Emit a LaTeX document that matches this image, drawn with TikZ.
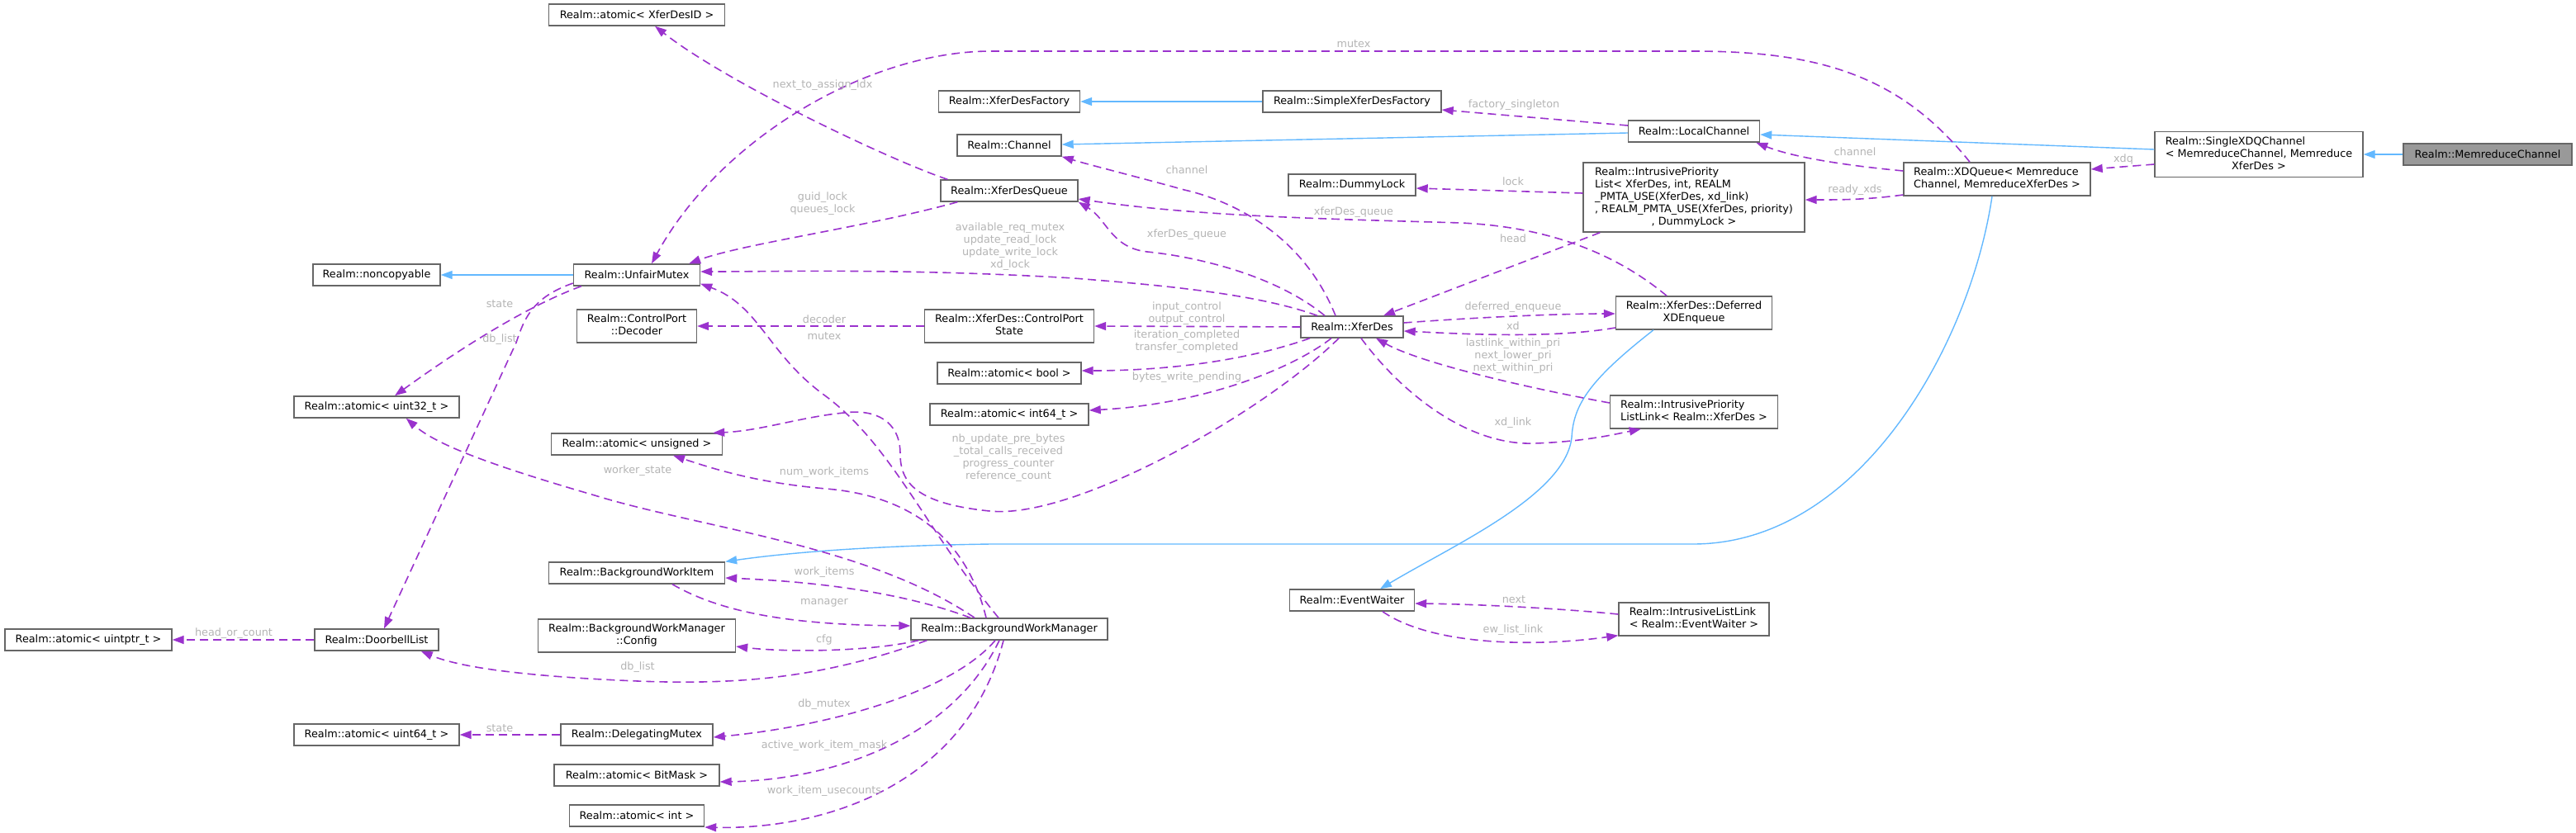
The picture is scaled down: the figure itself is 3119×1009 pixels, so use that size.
\documentclass[tikz,border=0pt]{standalone}
\usepackage{fontspec}
\setmainfont{DejaVu Sans}
\usetikzlibrary{arrows.meta,calc}
\definecolor{cpurple}{HTML}{9A32CD}
\definecolor{cblue}{HTML}{63B8FF}
\definecolor{cbord}{HTML}{666666}
\definecolor{cgray}{HTML}{B4B4B4}
\definecolor{croot}{HTML}{999999}
\newcommand\nf{\fontsize{12.8pt}{15pt}\selectfont}
\newcommand\mlines[1]{\begin{tabular}{@{}l@{}}#1\end{tabular}}
\newcommand\lastc[1]{\multicolumn{1}{@{}c@{}}{#1}}
\tikzset{
  box/.style={draw=cbord, line width=1.4pt, fill=white, inner sep=0pt, font=\nf, text=black},
  lbl/.style={text=cgray, font=\nf, align=center, inner sep=0pt},
  mem/.style={draw=cpurple, dash pattern=on 10pt off 6pt, line width=1.6pt, -{Triangle[length=14pt,width=10pt]}, fill=none},
  inh/.style={draw=cblue, line width=1.4pt, -{Triangle[length=14pt,width=10pt]}},
}
\begin{document}
\begin{tikzpicture}[x=1pt,y=-1pt]
\useasboundingbox (0,0) rectangle (3119,1009);
% nodes
\node[box, fill=croot, minimum width=204, minimum height=26] (mc) at (3012,187) {Realm::MemreduceChannel};
\node[box, minimum width=252, minimum height=55] (sxdq) at (2735,187) {\mlines{Realm::SingleXDQChannel\\< MemreduceChannel, Memreduce\\\lastc{XferDes >}}};
\node[box, minimum width=159, minimum height=26] (lc) at (2051,159) {Realm::LocalChannel};
\node[box, minimum width=226, minimum height=40] (xdq) at (2418,217) {\mlines{Realm::XDQueue< Memreduce\\\lastc{Channel, MemreduceXferDes >}}};
\node[box, minimum width=268, minimum height=84] (ipl) at (2051,239) {\mlines{Realm::IntrusivePriority\\List< XferDes, int, REALM\\\_PMTA\_USE(XferDes, xd\_link)\\, REALM\_PMTA\_USE(XferDes, priority)\\\lastc{, DummyLock >}}};
\node[box, minimum width=216, minimum height=26] (sxdf) at (1637,123) {Realm::SimpleXferDesFactory};
\node[box, minimum width=171, minimum height=26] (xdf) at (1222,123) {Realm::XferDesFactory};
\node[box, minimum width=126, minimum height=26] (ch) at (1222,176) {Realm::Channel};
\node[box, minimum width=166, minimum height=26] (xdqu) at (1222,231) {Realm::XferDesQueue};
\node[box, minimum width=154, minimum height=26] (dl) at (1637,224) {Realm::DummyLock};
\node[box, minimum width=124, minimum height=26] (xd) at (1637,396) {Realm::XferDes};
\node[box, minimum width=189, minimum height=40] (dxe) at (2051,379) {\mlines{Realm::XferDes::Deferred\\\lastc{XDEnqueue}}};
\node[box, minimum width=205, minimum height=40] (cps) at (1222,395) {\mlines{Realm::XferDes::ControlPort\\\lastc{State}}};
\node[box, minimum width=174, minimum height=26] (ab) at (1222,452) {Realm::atomic< bool >};
\node[box, minimum width=192, minimum height=26] (ai64) at (1222,502) {Realm::atomic< int64\_t >};
\node[box, minimum width=203, minimum height=40] (ipll) at (2051,499) {\mlines{Realm::IntrusivePriority\\ListLink< Realm::XferDes >}};
\node[box, minimum width=238, minimum height=26] (bwm) at (1222,762) {Realm::BackgroundWorkManager};
\node[box, minimum width=151, minimum height=26] (ew) at (1637,727) {Realm::EventWaiter};
\node[box, minimum width=182, minimum height=40] (ill) at (2051,750) {\mlines{Realm::IntrusiveListLink\\< Realm::EventWaiter >}};
\node[box, minimum width=213, minimum height=26] (axid) at (771,18) {Realm::atomic< XferDesID >};
\node[box, minimum width=153, minimum height=26] (um) at (771,333) {Realm::UnfairMutex};
\node[box, minimum width=154, minimum height=26] (nc) at (456,333) {Realm::noncopyable};
\node[box, minimum width=145, minimum height=40] (dec) at (771,395) {\mlines{Realm::ControlPort\\\lastc{::Decoder}}};
\node[box, minimum width=200, minimum height=26] (au32) at (456,493) {Realm::atomic< uint32\_t >};
\node[box, minimum width=207, minimum height=26] (aun) at (771,538) {Realm::atomic< unsigned >};
\node[box, minimum width=213, minimum height=26] (bwi) at (771,694) {Realm::BackgroundWorkItem};
\node[box, minimum width=239, minimum height=40] (cfg) at (771,770) {\mlines{Realm::BackgroundWorkManager\\\lastc{::Config}}};
\node[box, minimum width=202, minimum height=26] (auptr) at (107,775) {Realm::atomic< uintptr\_t >};
\node[box, minimum width=150, minimum height=26] (dbl) at (456,775) {Realm::DoorbellList};
\node[box, minimum width=200, minimum height=26] (au64) at (456,890) {Realm::atomic< uint64\_t >};
\node[box, minimum width=184, minimum height=26] (dm) at (771,890) {Realm::DelegatingMutex};
\node[box, minimum width=200, minimum height=26] (abm) at (771,939) {Realm::atomic< BitMask >};
\node[box, minimum width=163, minimum height=26] (aint) at (771,988) {Realm::atomic< int >};

% inheritance
\draw[inh] (mc.west) -- (sxdq.east);
\draw[inh] ($(sxdq.west)+(0,-6)$) -- ($(lc.east)+(0,4)$);
\draw[inh] ($(lc.west)+(0,2)$) -- ($(ch.east)+(0,-1)$);
\draw[inh] (sxdf.west) -- (xdf.east);
\draw[inh] (um.west) -- (nc.east);
\draw[inh] ($(xdq.south)+(-6,0)$) .. controls (2385,420) and (2250,659) .. (2050,659) -- (1200,659) .. controls (1050,661) and (950,670) .. (bwi.north east);
\draw[inh] ($(dxe.south)+(-49,0)$) .. controls (1925,460) and (1905,490) .. (1903,530) .. controls (1895,600) and (1760,660) .. ($(ew.north)+(34,0)$);

% members
\draw[mem] ($(sxdq.west)+(0,12)$) -- ($(xdq.east)+(0,-12)$);
\draw[mem] ($(xdq.west)+(0,-10)$) .. controls (2230,200) and (2170,190) .. ($(lc.south east)+(-5,0)$);
\draw[mem] ($(xdq.west)+(0,19)$) .. controls (2260,242) and (2230,242) .. ($(ipl.east)+(0,3)$);
\draw[mem] ($(xdq.north)+(-33,0)$) .. controls (2300,90) and (2200,62) .. (2050,62) -- (1200,62) .. controls (1050,62) and (870,170) .. ($(um.north)+(18,0)$);
\draw[mem] ($(lc.west)+(0,-7)$) -- ($(sxdf.east)+(0,10)$);
\draw[mem] ($(ipl.west)+(0,-5)$) -- ($(dl.east)+(0,4)$);
\draw[mem] ($(ipl.south west)+(21,0)$) -- ($(xd.north)+(38,0)$);
\draw[mem] ($(xd.east)+(0,-5)$) .. controls (1780,385) and (1880,380) .. ($(dxe.west)+(0,1)$);
\draw[mem] ($(dxe.west)+(0,18)$) .. controls (1880,410) and (1780,405) .. ($(xd.east)+(0,5)$);
\draw[mem] ($(ipll.west)+(0,-11)$) .. controls (1850,470) and (1720,440) .. ($(xd.south)+(29,0)$);
\draw[mem] ($(xd.south)+(11,0)$) .. controls (1700,480) and (1780,540) .. (1858,537) .. controls (1920,535) and (1960,525) .. ($(ipll.south west)+(38,0)$);
\draw[mem] ($(dxe.north)+(-33,0)$) .. controls (1960,310) and (1880,275) .. (1769,270) .. controls (1600,265) and (1450,262) .. ($(xdqu.east)+(0,10)$);
\draw[mem] ($(xd.north)+(-33,0)$) .. controls (1540,330) and (1440,310) .. (1389,305) .. controls (1345,300) and (1340,265) .. (xdqu.south east);
\draw[mem] ($(xd.north)+(-20,0)$) .. controls (1580,290) and (1500,245) .. (1434,230) .. controls (1380,215) and (1320,200) .. (ch.south east);
\draw[mem] ($(xd.north)+(-42,0)$) .. controls (1520,355) and (1400,345) .. (1300,337) .. controls (1100,325) and (950,329) .. ($(um.east)+(0,-4)$);
\draw[mem] (xd.west) -- (cps.east);
\draw[mem] ($(xd.south)+(-51,0)$) .. controls (1500,440) and (1400,449) .. ($(ab.east)+(0,-3)$);
\draw[mem] ($(xd.south)+(-25,0)$) .. controls (1560,450) and (1450,490) .. ($(ai64.east)+(0,-5)$);
\draw[mem] ($(xd.south)+(-16,0)$) .. controls (1530,500) and (1300,630) .. (1198,619) .. controls (1110,610) and (1090,585) .. (1090,550) .. controls (1090,510) and (1060,495) .. (1022,500) .. controls (970,505) and (920,522) .. ($(aun.north east)+(-12,0)$);
\draw[mem] ($(xdqu.south west)+(21,0)$) .. controls (1050,275) and (900,295) .. ($(um.north east)+(-14,0)$);
\draw[mem] ($(xdqu.north west)+(9,0)$) .. controls (1080,195) and (880,100) .. ($(axid.south)+(22,0)$);
\draw[mem] (cps.west) -- (dec.east);
\draw[mem] ($(bwm.north)+(-13,0)$) .. controls (1120,640) and (1080,540) .. (1000,480) .. controls (930,430) and (920,370) .. ($(um.south east)+(0,-3)$);
\draw[mem] ($(bwm.north)+(-28,0)$) .. controls (1170,650) and (1100,600) .. (1000,592) .. controls (920,585) and (870,570) .. ($(aun.south)+(44,0)$);
\draw[mem] ($(bwm.north)+(-42,0)$) .. controls (1050,660) and (850,640) .. (720,600) .. controls (600,565) and (530,540) .. ($(au32.south east)+(-65,0)$);
\draw[mem] ($(bwm.north)+(-47,0)$) .. controls (1100,720) and (1000,705) .. ($(bwi.east)+(0,6)$);
\draw[mem] ($(bwi.south)+(43,0)$) .. controls (870,740) and (950,757) .. ($(bwm.west)+(0,-4)$);
\draw[mem] ($(bwm.south west)+(10,0)$) .. controls (1050,790) and (950,790) .. ($(cfg.east)+(0,13)$);
\draw[mem] ($(bwm.south west)+(20,0)$) .. controls (1000,820) and (900,830) .. (772,825) .. controls (650,820) and (560,810) .. ($(dbl.south east)+(-22,0)$);
\draw[mem] ($(bwm.south)+(-17,0)$) .. controls (1150,840) and (1000,880) .. ($(dm.east)+(0,3)$);
\draw[mem] ($(bwm.south)+(-12,0)$) .. controls (1150,900) and (1000,945) .. ($(abm.east)+(0,8)$);
\draw[mem] ($(bwm.south)+(-7,0)$) .. controls (1170,950) and (1000,1005) .. ($(aint.east)+(0,14)$);
\draw[mem] ($(um.south west)+(10,0)$) .. controls (640,370) and (560,420) .. ($(au32.north)+(22,0)$);
\draw[mem] ($(um.west)+(0,10)$) .. controls (645,360) and (635,385) .. (625,415) -- ($(dbl.north)+(9,0)$);
\draw[mem] (dbl.west) -- (auptr.east);
\draw[mem] (dm.west) -- (au64.east);
\draw[mem] ($(ill.west)+(0,-6)$) .. controls (1900,738) and (1800,732) .. ($(ew.east)+(0,4)$);
\draw[mem] ($(ew.south)+(37,0)$) .. controls (1730,780) and (1850,785) .. ($(ill.south west)+(0,-1)$);

% labels
\node[lbl] (l1) at (2571,193) {xdq};
\node[lbl] (l2) at (2246,184) {channel};
\node[lbl] (l3) at (2246,230) {ready\_xds};
\node[lbl] (l4) at (1639,53) {mutex};
\node[lbl] (l5) at (1833,127) {factory\_singleton};
\node[lbl] (l6) at (1832,220) {lock};
\node[lbl] (l7) at (1832,289) {head};
\node[lbl] (l8) at (1832,372) {deferred\_enqueue};
\node[lbl] (l9) at (1832,395) {xd};
\node[lbl] (l10) at (1832,431) {lastlink\_within\_pri\\next\_lower\_pri\\next\_within\_pri};
\node[lbl] (l11) at (1832,512) {xd\_link};
\node[lbl] (l12) at (1639,257) {xferDes\_queue};
\node[lbl] (l13) at (1437,284) {xferDes\_queue};
\node[lbl] (l14) at (1437,206) {channel};
\node[lbl] (l15) at (1223,299) {available\_req\_mutex\\update\_read\_lock\\update\_write\_lock\\xd\_lock};
\node[lbl] (l16) at (1437,380) {input\_control\\output\_control};
\node[lbl] (l17) at (1437,414) {iteration\_completed\\transfer\_completed};
\node[lbl] (l18) at (1437,457) {bytes\_write\_pending};
\node[lbl] (l19) at (1221,555) {nb\_update\_pre\_bytes\\\_total\_calls\_received\\progress\_counter\\reference\_count};
\node[lbl] (l20) at (996,247) {guid\_lock\\queues\_lock};
\node[lbl] (l21) at (996,103) {next\_to\_assign\_idx};
\node[lbl] (l22) at (998,387) {decoder};
\node[lbl] (l23) at (998,407) {mutex};
\node[lbl] (l24) at (998,572) {num\_work\_items};
\node[lbl] (l25) at (772,570) {worker\_state};
\node[lbl] (l26) at (998,693) {work\_items};
\node[lbl] (l27) at (998,730) {manager};
\node[lbl] (l28) at (998,775) {cfg};
\node[lbl] (l29) at (772,808) {db\_list};
\node[lbl] (l30) at (998,853) {db\_mutex};
\node[lbl] (l31) at (998,903) {active\_work\_item\_mask};
\node[lbl] (l32) at (998,958) {work\_item\_usecounts};
\node[lbl] (l33) at (605,368) {state};
\node[lbl] (l34) at (605,411) {db\_list};
\node[lbl] (l35) at (283,767) {head\_or\_count};
\node[lbl] (l36) at (605,882) {state};
\node[lbl] (l37) at (1833,726) {next};
\node[lbl] (l38) at (1832,763) {ew\_list\_link};
\end{tikzpicture}
\end{document}
